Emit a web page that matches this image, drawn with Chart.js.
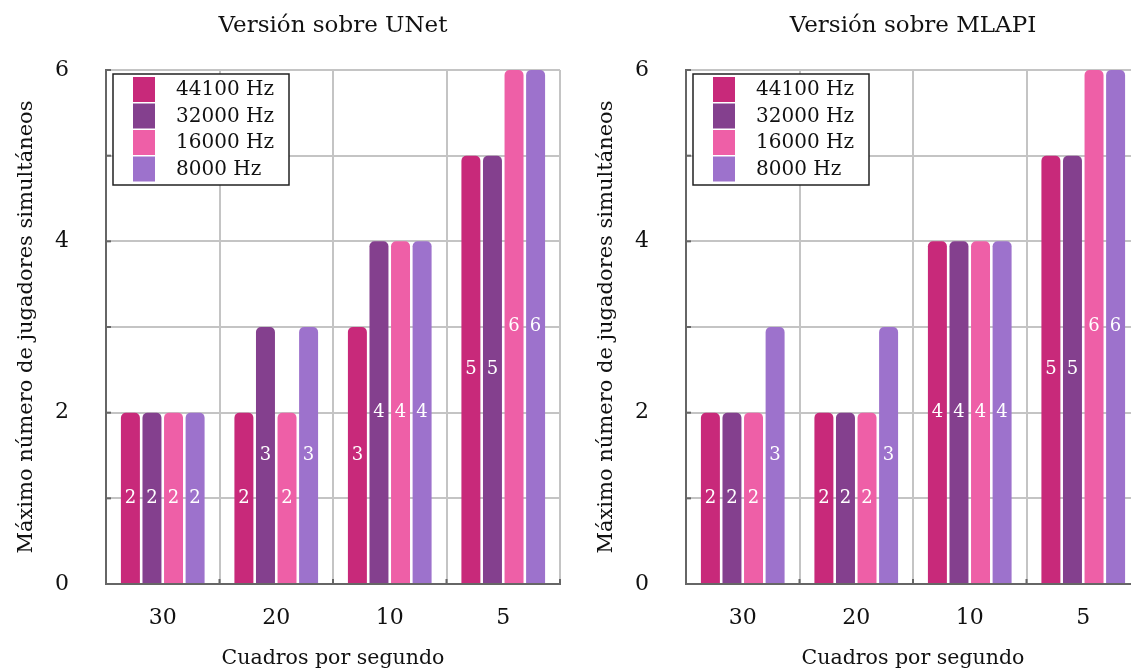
<!DOCTYPE html>
<html>
<head>
<meta charset="utf-8">
<script src="https://cdn.jsdelivr.net/npm/chart.js@4.4.1/dist/chart.umd.min.js"></script>
<style>
  html, body { margin: 0; padding: 0; background: #fff; overflow: hidden; }
  #wrap { position: relative; width: 1131px; height: 671px; overflow: hidden; }
  canvas { position: absolute; top: 0; }
  #chartUnet { left: 0; }
  #chartMlapi { left: 580px; }
</style>
</head>
<body>
<div id="wrap">
  <canvas id="chartUnet" width="580" height="671"></canvas>
  <canvas id="chartMlapi" width="580" height="671"></canvas>
</div>
<script>
// categorías y series
const fpsLabels = ['30', '20', '10', '5'];
const rateLabels = ['44100 Hz', '32000 Hz', '16000 Hz', '8000 Hz'];
const yTicks = [0, 2, 4, 6];

const unet44100 = [2, 2, 3, 5];
const unet32000 = [2, 3, 4, 5];
const unet16000 = [2, 2, 4, 6];
const unet8000  = [2, 3, 4, 6];

const mlapi44100 = [2, 2, 4, 5];
const mlapi32000 = [2, 2, 4, 5];
const mlapi16000 = [2, 2, 4, 6];
const mlapi8000  = [3, 3, 4, 6];

const barColors = ['#c8297a', '#84408e', '#ee5fa7', '#9d72cc'];
const FONT = "'DejaVu Serif', 'Liberation Serif', serif";

// título centrado sobre el área del gráfico
const plotTitle = {
  id: 'plotTitle',
  afterDraw(chart, args, opts) {
    const { ctx, chartArea } = chart;
    ctx.save();
    ctx.fillStyle = '#111';
    ctx.font = '23px ' + FONT;
    ctx.textAlign = 'center';
    ctx.textBaseline = 'middle';
    ctx.fillText(opts.text, (chartArea.left + chartArea.right) / 2, 26);
    ctx.restore();
  }
};

// marcas cortas hacia dentro en los ejes
const innerTicks = {
  id: 'innerTicks',
  beforeDatasetsDraw(chart) {
    const { ctx, chartArea, scales } = chart;
    ctx.save();
    ctx.strokeStyle = '#666';
    ctx.lineWidth = 2;
    for (let v = 0; v <= 6; v++) {
      const y = scales.y.getPixelForValue(v);
      ctx.beginPath();
      ctx.moveTo(chartArea.left, y);
      ctx.lineTo(chartArea.left + 5, y);
      ctx.stroke();
    }
    const step = (chartArea.right - chartArea.left) / fpsLabels.length;
    for (let i = 0; i <= fpsLabels.length; i++) {
      const x = chartArea.left + i * step;
      ctx.beginPath();
      ctx.moveTo(x, chartArea.bottom);
      ctx.lineTo(x, chartArea.bottom - 5);
      ctx.stroke();
    }
    ctx.restore();
  }
};

// valor en blanco a media altura de cada barra
const barValues = {
  id: 'barValues',
  afterDatasetsDraw(chart) {
    const { ctx } = chart;
    ctx.save();
    ctx.fillStyle = '#fff';
    ctx.font = '18px ' + FONT;
    ctx.textAlign = 'center';
    ctx.textBaseline = 'middle';
    chart.data.datasets.forEach((ds, di) => {
      chart.getDatasetMeta(di).data.forEach((bar, i) => {
        ctx.fillText(String(ds.data[i]), bar.x, (bar.y + bar.base) / 2);
      });
    });
    ctx.restore();
  }
};

// leyenda dentro del área, arriba a la izquierda
const boxLegend = {
  id: 'boxLegend',
  afterDatasetsDraw(chart) {
    const { ctx, chartArea } = chart;
    const x0 = chartArea.left + 7, y0 = chartArea.top + 4;
    const rowH = 26.5, w = 176, h = 111;
    ctx.save();
    ctx.fillStyle = '#fff';
    ctx.fillRect(x0, y0, w, h);
    ctx.strokeStyle = '#222';
    ctx.lineWidth = 1.5;
    ctx.strokeRect(x0, y0, w, h);
    ctx.font = '20px ' + FONT;
    ctx.textBaseline = 'middle';
    chart.data.datasets.forEach((ds, i) => {
      const ry = y0 + 3 + i * rowH;
      ctx.fillStyle = ds.backgroundColor;
      ctx.fillRect(x0 + 20, ry, 22, rowH - 1.5);
      ctx.fillStyle = '#111';
      ctx.fillText(ds.label, x0 + 63, ry + rowH / 2);
    });
    ctx.restore();
  }
};

function makeChart(id, title, series) {
  const datasets = series.map((vals, i) => ({
    label: rateLabels[i],
    data: vals,
    backgroundColor: barColors[i],
    borderWidth: 0,
    borderRadius: 5,
    borderSkipped: 'start',
    categoryPercentage: 0.76,
    barPercentage: 0.88
  }));

  return new Chart(document.getElementById(id), {
    type: 'bar',
    data: { labels: fpsLabels, datasets },
    plugins: [plotTitle, innerTicks, barValues, boxLegend],
    options: {
      responsive: false,
      animation: false,
      layout: { padding: { top: 70, right: 20, bottom: 0, left: 0 } },
      plugins: {
        legend: { display: false },
        tooltip: { enabled: false },
        plotTitle: { text: title }
      },
      scales: {
        x: {
          offset: true,
          grid: { offset: true, color: '#c4c4c4', lineWidth: 2, drawTicks: false },
          border: { color: '#666', width: 2 },
          ticks: { color: '#111', font: { family: FONT, size: 22 }, padding: 21 },
          title: {
            display: true,
            text: 'Cuadros por segundo',
            color: '#111',
            font: { family: FONT, size: 20.5 },
            padding: { top: 12, bottom: 0 }
          },
          afterFit(scale) { scale.height = 87; }
        },
        y: {
          min: 0,
          max: 6,
          grid: { color: '#c4c4c4', lineWidth: 2, drawTicks: false },
          border: { color: '#666', width: 2 },
          ticks: {
            stepSize: 1,
            color: '#111',
            font: { family: FONT, size: 22 },
            padding: 37,
            callback: v => yTicks.includes(v) ? String(v) : ''
          },
          title: {
            display: true,
            text: 'Máximo número de jugadores simultáneos',
            color: '#111',
            font: { family: FONT, size: 21 },
            padding: { top: 14, bottom: 0 }
          },
          afterFit(scale) { scale.width = 106; }
        }
      }
    }
  });
}

makeChart('chartUnet', 'Versión sobre UNet', [unet44100, unet32000, unet16000, unet8000]);
makeChart('chartMlapi', 'Versión sobre MLAPI', [mlapi44100, mlapi32000, mlapi16000, mlapi8000]);
</script>
</body>
</html>
